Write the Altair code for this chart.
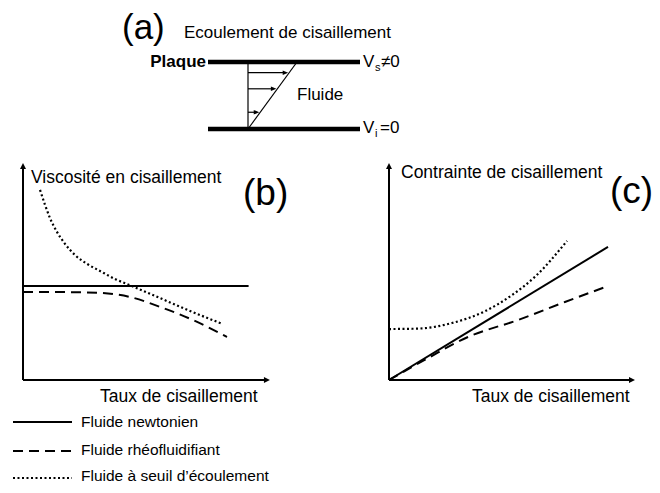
import altair as alt
import pandas as pd

# ---------------- values ----------------
# (b) shear viscosity vs shear rate (arbitrary units)
B_NEWTON_X = [0.0, 9.4]
B_NEWTON_Y = [4.37, 4.37]
B_THIN_X = [0.0, 1.54, 3.21, 4.46, 5.71, 7.08, 8.5]
B_THIN_Y = [4.09, 4.09, 4.05, 3.86, 3.40, 2.79, 2.0]
B_YIELD_X = [0.71, 0.92, 1.125, 1.42, 1.75, 2.17, 2.67, 3.21, 3.83, 4.54, 5.71, 6.96, 8.33]
B_YIELD_Y = [8.84, 8.14, 7.53, 6.88, 6.33, 5.81, 5.40, 5.07, 4.70, 4.37, 3.81, 3.21, 2.60]

# (c) shear stress vs shear rate (arbitrary units)
C_NEWTON_X = [0.0, 9.125]
C_NEWTON_Y = [0.0, 6.19]
C_THIN_X = [0.0, 1.625, 3.29, 5.375, 7.33, 9.125]
C_THIN_Y = [0.0, 1.02, 2.0, 2.79, 3.63, 4.37]
C_YIELD_X = [0.0, 1.21, 2.625, 4.0, 5.125, 6.08, 7.42]
C_YIELD_Y = [2.37, 2.39, 2.65, 3.2, 3.95, 4.8, 6.47]

# (a) linear velocity profile: relative heights of the drawn velocity arrows
A_ARROW_H = [0.25, 0.6, 0.84]

# texts
TITLE_A = "Ecoulement de cisaillement"
LABEL_B = "Viscosité en cisaillement"
LABEL_C = "Contrainte de cisaillement"
X_LABEL = "Taux de cisaillement"
LEGEND = ["Fluide newtonien", "Fluide rhéofluidifiant", "Fluide à seuil d’écoulement"]

# ---------------- layout (page pixels) ----------------
FONT = "Liberation Sans"
PB = dict(ox=23, oy=380, sx=24, sy=21.5, xtip=10.29, ytip=10.09)
PC = dict(ox=389, oy=380, sx=24, sy=21.5, xtip=10.25, ytip=10.09)
A_TOP, A_BOT, A_X0, A_X1, A_PROF_X, A_PROF_DX = 62, 129, 208, 360, 248, 49

rows = []
heads_r, heads_u, heads_a = [], [], []


def add(seg, style, xs, ys):
    for i, (x, y) in enumerate(zip(xs, ys)):
        rows.append(dict(seg=seg, style=style, i=i, x=x, y=y))


def panel(p, name, curves):
    px = lambda v: p["ox"] + v * p["sx"]
    py = lambda v: p["oy"] - v * p["sy"]
    add(name + "ax", "axis", [px(0), px(p["xtip"]) - 5], [py(0), py(0)])
    add(name + "ay", "axis", [px(0), px(0)], [py(0), py(p["ytip"]) + 5])
    heads_r.append(dict(x=px(p["xtip"]), y=py(0)))
    heads_u.append(dict(x=px(0), y=py(p["ytip"])))
    for k, (style, xs, ys) in enumerate(curves):
        add(name + str(k), style, [px(v) for v in xs], [py(v) for v in ys])


panel(PB, "b", [("solid", B_NEWTON_X, B_NEWTON_Y),
                ("dash", B_THIN_X, B_THIN_Y),
                ("dot", B_YIELD_X, B_YIELD_Y)])
panel(PC, "c", [("solid", C_NEWTON_X, C_NEWTON_Y),
                ("dash", C_THIN_X, C_THIN_Y),
                ("dot", C_YIELD_X, C_YIELD_Y)])

# panel (a): plates and velocity profile
add("plate_top", "plate", [A_X0, A_X1], [A_TOP, A_TOP])
add("plate_bot", "plate", [A_X0, A_X1], [A_BOT, A_BOT])
add("prof_v", "thin", [A_PROF_X, A_PROF_X], [A_TOP, A_BOT])
add("prof_d", "thin", [A_PROF_X, A_PROF_X + A_PROF_DX], [A_BOT, A_TOP])
for k, h in enumerate(A_ARROW_H):
    yy = A_BOT - h * (A_BOT - A_TOP)
    tip = A_PROF_X + h * A_PROF_DX - 1
    add("arr%d" % k, "thin", [A_PROF_X, tip - 3], [yy, yy])
    heads_a.append(dict(x=tip, y=yy))

# legend samples
for k, (style, ly) in enumerate([("solid", 422), ("dash", 451), ("dot", 478)]):
    add("leg%d" % k, style, [13, 72], [ly, ly])

df = pd.DataFrame(rows)

texts = pd.DataFrame([
    dict(x=122, y=39, text="(a)", size=35),
    dict(x=184, y=38, text=TITLE_A, size=17),
    dict(x=363, y=67, text="V", size=17),
    dict(x=375, y=71, text="s", size=11),
    dict(x=381, y=67, text="≠0", size=17),
    dict(x=363, y=133, text="V", size=17),
    dict(x=375, y=137, text="i", size=11),
    dict(x=380, y=133, text="=0", size=17),
    dict(x=297, y=100, text="Fluide", size=17),
    dict(x=31, y=183, text=LABEL_B, size=17.5),
    dict(x=243, y=205, text="(b)", size=37),
    dict(x=100, y=402, text=X_LABEL, size=17.5),
    dict(x=401, y=178, text=LABEL_C, size=17.5),
    dict(x=610, y=203, text="(c)", size=37),
    dict(x=472, y=402, text=X_LABEL, size=17.5),
    dict(x=81, y=427, text=LEGEND[0], size=15.5),
    dict(x=81, y=455, text=LEGEND[1], size=15.5),
    dict(x=81, y=481, text=LEGEND[2], size=15.5),
])
bold = pd.DataFrame([dict(x=206, y=67, text="Plaque", size=17)])

X = alt.X("x:Q", scale=alt.Scale(domain=[8, 652], nice=False, zero=False), axis=None)
Y = alt.Y("y:Q", scale=alt.Scale(domain=[8, 485], nice=False, zero=False, reverse=True), axis=None)


def lines(style, width, dash=None, interp="linear", cap="butt"):
    kw = dict(color="black", strokeWidth=width, interpolate=interp, strokeCap=cap)
    if dash:
        kw["strokeDash"] = dash
    return alt.Chart(df[df["style"] == style]).mark_line(**kw).encode(
        x=X, y=Y, detail="seg:N", order="i:Q")


RIGHT = "M0,0L-1,-0.5L-1,0.5Z"
UP = "M0,0L-0.5,1L0.5,1Z"
SMALL = "M0,0L-1,-0.42L-1,0.42Z"


def heads(data, shape, size):
    return alt.Chart(pd.DataFrame(data)).mark_point(
        shape=shape, size=size, filled=True, color="black", opacity=1, strokeWidth=0
    ).encode(x=X, y=Y)


layers = [
    lines("axis", 2),
    lines("plate", 4.5),
    lines("thin", 1.2),
    lines("solid", 2),
    lines("dash", 2, dash=[10, 6], interp="monotone"),
    lines("dot", 2.2, dash=[2, 2.5], interp="monotone"),
    heads(heads_r, RIGHT, 144),
    heads(heads_u, UP, 144),
    heads(heads_a, SMALL, 121),
    alt.Chart(texts).mark_text(align="left", baseline="alphabetic", font=FONT, color="black").encode(
        x=X, y=Y, text="text:N", size=alt.Size("size:Q", scale=None)),
    alt.Chart(bold).mark_text(align="right", baseline="alphabetic", font=FONT, fontWeight="bold",
                              color="black").encode(
        x=X, y=Y, text="text:N", size=alt.Size("size:Q", scale=None)),
]

chart = alt.layer(*layers).properties(
    width=644, height=477, padding=0, autosize="none", background="white"
).configure_view(stroke=None)

chart.save("out.html", embed_options={"renderer": "svg", "actions": False})
